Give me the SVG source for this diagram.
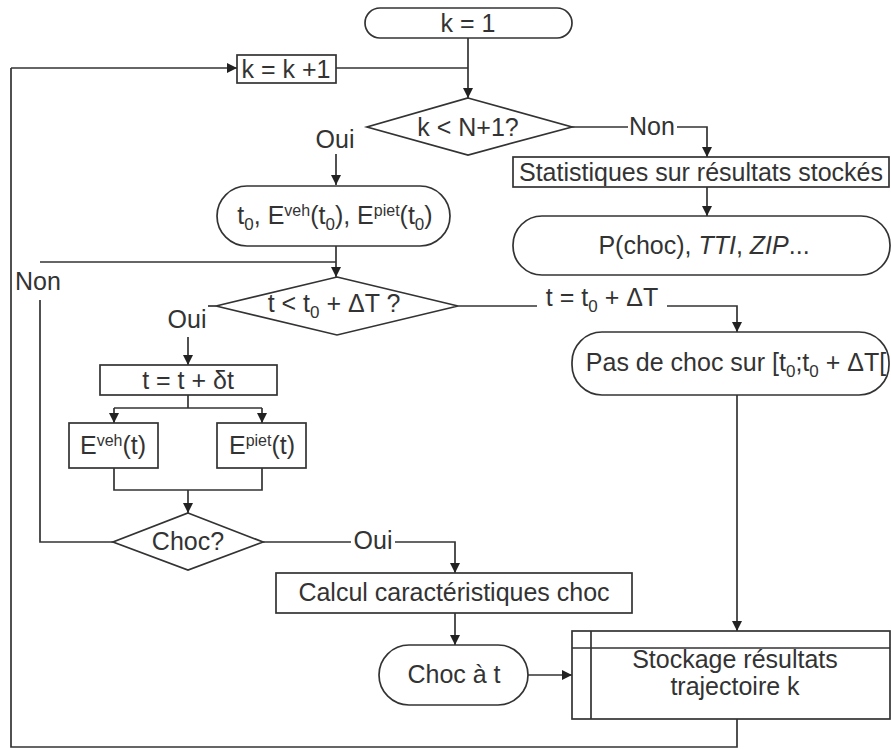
<svg xmlns="http://www.w3.org/2000/svg" width="891" height="749" viewBox="0 0 891 749">
<defs>
<marker id="arr" viewBox="0 0 10 10" refX="10" refY="5" markerWidth="10" markerHeight="10" markerUnits="userSpaceOnUse" orient="auto">
<path d="M0,0 L10,5 L0,10 z" fill="#222"/>
</marker>
<style>
.s{fill:#fff;stroke:#333;stroke-width:1.7}
.c{fill:none;stroke:#333;stroke-width:1.7}
.a{fill:none;stroke:#333;stroke-width:1.7;marker-end:url(#arr)}
text{font-family:"Liberation Sans",Arial,sans-serif;font-size:25px;fill:#333;text-anchor:middle}
.sub{font-size:17px}
.sup{font-size:16px}
</style>
</defs>
<rect width="891" height="749" fill="#fff"/>
<g id="connectors">
<path class="a" d="M468,38 V98"/>
<path class="c" d="M336,68 H468"/>
<path class="a" d="M11,68 H237"/>
<path class="c" d="M11,68 V747 H737 V719"/>
<path class="c" d="M572,127 H628"/>
<path class="a" d="M677,127 H707 V157"/>
<path class="a" d="M707,187 V216"/>
<path class="a" d="M336,154 V185"/>
<path class="a" d="M336,246 V277"/>
<path class="c" d="M40,262 H336"/>
<path class="c" d="M40,300 V542 H113"/>
<path class="c" d="M216,306 H208"/>
<path class="a" d="M188,337 V365"/>
<path class="c" d="M458,306 H537"/>
<path class="a" d="M667,306 H737 V332"/>
<path class="a" d="M737,395 V631"/>
<path class="c" d="M188,395 V408"/>
<path class="a" d="M114,408 V423"/>
<path class="a" d="M262,408 V423"/>
<path class="c" d="M114,408 H262"/>
<path class="c" d="M114,468 V490 H262 V468"/>
<path class="a" d="M188,490 V513"/>
<path class="c" d="M263,542 H351"/>
<path class="a" d="M395,542 H455 V573"/>
<path class="a" d="M455,613 V645"/>
<path class="a" d="M528,675 H572"/>
</g>
<g id="n_k1"><rect class="s" x="365" y="8" width="207" height="30" rx="15"/><text x="468" y="32">k = 1</text></g>
<g id="n_kinc"><rect class="s" x="237" y="55" width="99" height="28"/><text x="286" y="78">k = k +1</text></g>
<g id="n_cond1"><polygon class="s" points="468,98 572,127 468,155 367,127"/><text x="468" y="136">k &lt; N+1?</text></g>
<g id="l_oui1"><text x="335" y="148">Oui</text></g>
<g id="l_non1"><text x="652" y="135">Non</text></g>
<g id="n_stats"><rect class="s" x="513" y="157" width="376" height="30"/><text x="701" y="181">Statistiques sur résultats stockés</text></g>
<g id="n_pchoc"><rect class="s" x="513" y="216" width="377" height="59" rx="29"/><text x="704" y="254">P(choc), <tspan font-style="italic">TTI</tspan>, <tspan font-style="italic">ZIP</tspan>...</text></g>
<g id="n_t0"><rect class="s" x="217" y="186" width="233" height="60" rx="30"/><text x="335" y="224">t<tspan class="sub" dy="6">0</tspan><tspan dy="-6">, E</tspan><tspan class="sup" dy="-8">veh</tspan><tspan dy="8">(t</tspan><tspan class="sub" dy="6">0</tspan><tspan dy="-6">), E</tspan><tspan class="sup" dy="-8">piet</tspan><tspan dy="8">(t</tspan><tspan class="sub" dy="6">0</tspan><tspan dy="-6">)</tspan></text></g>
<g id="l_non2"><text x="38" y="290">Non</text></g>
<g id="n_cond2"><polygon class="s" points="337,277 458,306 337,335 216,306"/><text x="334" y="312">t &lt; t<tspan class="sub" dy="6">0</tspan><tspan dy="-6"> + ΔT ?</tspan></text></g>
<g id="l_oui2"><text x="187" y="328">Oui</text></g>
<g id="l_dt"><text x="602" y="306">t = t<tspan class="sub" dy="6">0</tspan><tspan dy="-6"> + ΔT</tspan></text></g>
<g id="n_pas"><rect class="s" x="572" y="332" width="317" height="63" rx="30"/><text x="736" y="371">Pas de choc sur [t<tspan class="sub" dy="6">0</tspan><tspan dy="-6">;t</tspan><tspan class="sub" dy="6">0</tspan><tspan dy="-6"> + ΔT[</tspan></text></g>
<g id="n_tinc"><rect class="s" x="100" y="365" width="177" height="30"/><text x="188" y="389">t = t + δt</text></g>
<g id="n_eveh"><rect class="s" x="69" y="423" width="89" height="45"/><text x="113" y="454">E<tspan class="sup" dy="-8">veh</tspan><tspan dy="8">(t)</tspan></text></g>
<g id="n_epiet"><rect class="s" x="217" y="423" width="89" height="45"/><text x="262" y="454">E<tspan class="sup" dy="-8">piet</tspan><tspan dy="8">(t)</tspan></text></g>
<g id="n_choc"><polygon class="s" points="188,513 263,542 188,570 113,542"/><text x="188" y="550">Choc?</text></g>
<g id="l_oui3"><text x="373" y="549">Oui</text></g>
<g id="n_calc"><rect class="s" x="276" y="573" width="356" height="40"/><text x="454" y="601">Calcul caractéristiques choc</text></g>
<g id="n_chocat"><rect class="s" x="379" y="645" width="149" height="60" rx="30"/><text x="454" y="683">Choc à t</text></g>
<g id="n_stock"><rect class="s" x="572" y="631" width="318" height="88"/><path class="c" d="M591,631 V719 M572,648 H890"/><text x="735" y="668">Stockage résultats</text><text x="735" y="695">trajectoire k</text></g>
</svg>
